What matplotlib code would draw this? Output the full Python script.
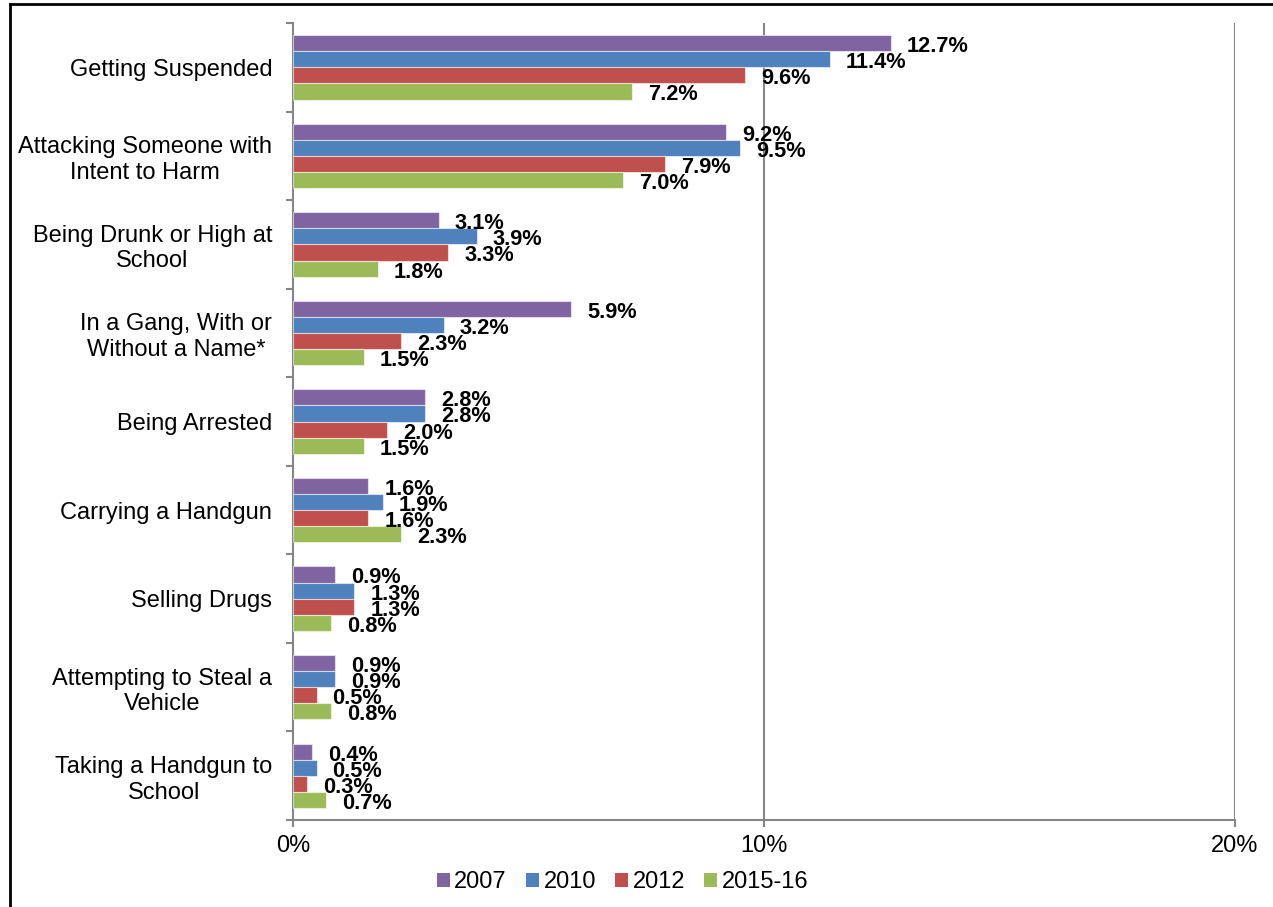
import matplotlib
matplotlib.use("Agg")
import matplotlib.pyplot as plt
from matplotlib.patches import Patch
from matplotlib.lines import Line2D
import numpy as np

plt.rcParams['font.family'] = ['Liberation Sans', 'DejaVu Sans']

categories = [
    "Getting Suspended",
    "Attacking Someone with\nIntent to Harm",
    "Being Drunk or High at\nSchool",
    "In a Gang, With or\nWithout a Name*",
    "Being Arrested",
    "Carrying a Handgun",
    "Selling Drugs",
    "Attempting to Steal a\nVehicle",
    "Taking a Handgun to\nSchool",
]
series_names = ["2007", "2010", "2012", "2015-16"]
v2007 = [12.7, 9.2, 3.1, 5.9, 2.8, 1.6, 0.9, 0.9, 0.4]
v2010 = [11.4, 9.5, 3.9, 3.2, 2.8, 1.9, 1.3, 0.9, 0.5]
v2012 = [9.6, 7.9, 3.3, 2.3, 2.0, 1.6, 1.3, 0.5, 0.3]
v2015 = [7.2, 7.0, 1.8, 1.5, 1.5, 2.3, 0.8, 0.8, 0.7]
xticks = [0, 10, 20]
xticklabels = ["0%", "10%", "20%"]

colors = ["#8064A2", "#4F81BD", "#C0504D", "#9BBB59"]
series = [v2007, v2010, v2012, v2015]

fig = plt.figure(figsize=(12.73, 9.07), dpi=100)
ax = fig.add_axes([0.2302, 0.0959, 0.97 - 0.2302, 0.9746 - 0.0959])

n = len(categories)
y = np.arange(n)
h = 0.182
for j, (vals, col) in enumerate(zip(series, colors)):
    pos = y + (j - 1.5) * h
    ax.barh(pos, vals, height=h, color=col, edgecolor=(1, 1, 1, 0.55), linewidth=0.8, zorder=3)
    for p, v in zip(pos, vals):
        ax.annotate(f"{v:.1f}%", xy=(v, p), xytext=(11.5, -2.5), textcoords="offset points",
                    ha="left", va="center", fontsize=15.7, fontweight="bold", color="black", zorder=4)

ax.set_xlim(0, 20)
ax.set_ylim(n - 0.5, -0.5)

grid_c = "#868686"
ax.set_xticks(xticks)
ax.set_xticklabels(xticklabels, fontsize=17)
for x in xticks[1:]:
    ax.axvline(x, color=grid_c, linewidth=1.5, zorder=1)
ax.tick_params(axis="x", direction="out", length=5, width=1.5, color=grid_c, pad=6)

ax.set_yticks(y)
ax.set_yticklabels(categories, fontsize=17, multialignment="center")
ax.tick_params(axis="y", which="major", length=0, pad=15)
ax.set_yticks(np.arange(-0.5, n, 1.0), minor=True)
ax.tick_params(axis="y", which="minor", direction="out", length=5, width=1.5, color=grid_c)

for s in ["top", "right"]:
    ax.spines[s].set_visible(False)
for s in ["left", "bottom"]:
    ax.spines[s].set_color(grid_c)
    ax.spines[s].set_linewidth(1.5)

handles = [Patch(facecolor=c, edgecolor="none", label=l) for c, l in zip(colors, series_names)]
fig.legend(handles=handles, loc="center", bbox_to_anchor=(0.489, 1 - 882 / 907), ncol=4,
           frameon=False, fontsize=17, handlelength=0.55, handleheight=0.55,
           handletextpad=0.2, columnspacing=0.8)

# outer border (top and left visible)
fig.add_artist(Line2D([9.5 / 1273, 9.5 / 1273], [0, 1 - 3.5 / 907], transform=fig.transFigure,
                      color="black", linewidth=2))
fig.add_artist(Line2D([9.5 / 1273, 1], [1 - 3.5 / 907, 1 - 3.5 / 907], transform=fig.transFigure,
                      color="black", linewidth=2))

fig.savefig("out.png", dpi=100)
